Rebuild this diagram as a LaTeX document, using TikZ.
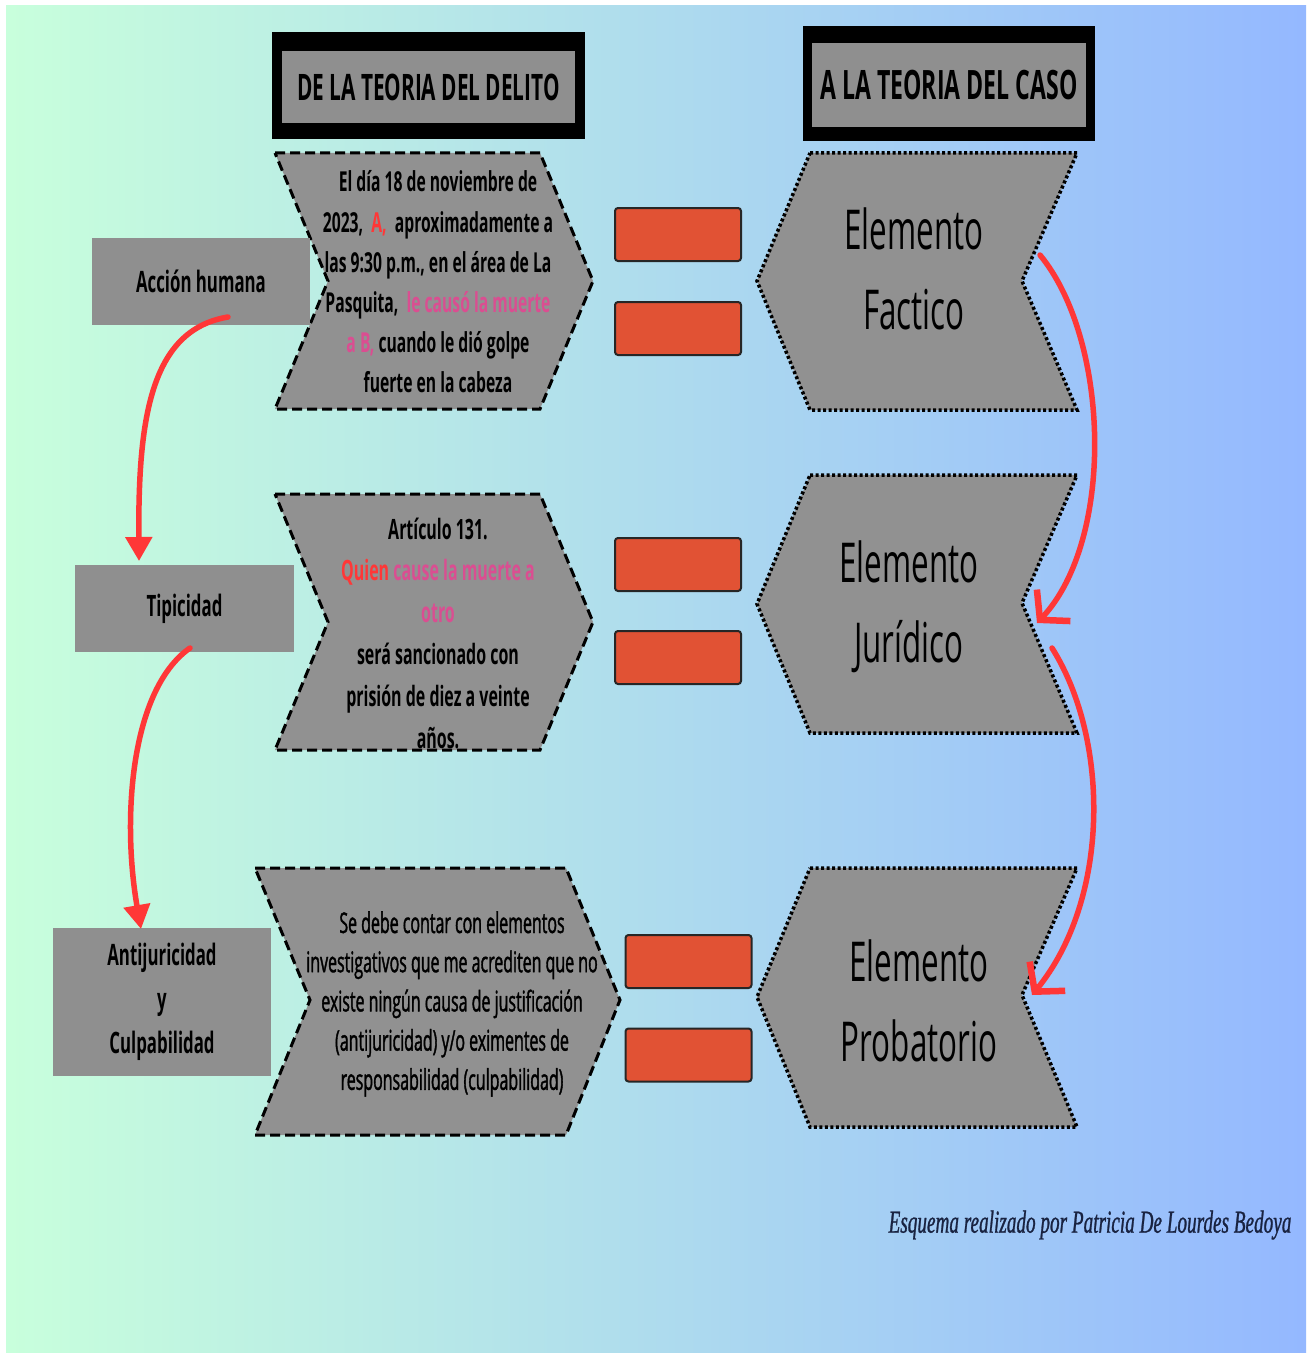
\documentclass[tikz,border=0pt]{standalone}
\usepackage{fontspec}
\setmainfont{Open Sans}[FakeStretch=0.57]
\newfontfamily\medfont{Open Sans}[FakeStretch=0.56, FakeBold=1.3]
\newfontfamily\sigfont{Liberation Serif}[FakeStretch=0.6, FakeBold=0.8]
\usetikzlibrary{arrows.meta}
\definecolor{bgl}{RGB}{200,255,220}
\definecolor{bgr}{RGB}{148,184,255}
\definecolor{boxg}{RGB}{143,143,143}
\definecolor{chevg}{RGB}{145,145,145}
\definecolor{org}{RGB}{225,82,52}
\definecolor{redA}{RGB}{255,55,55}
\definecolor{pinkA}{RGB}{218,78,145}
\definecolor{sigc}{RGB}{25,35,65}
\tikzset{
  chevL/.style={fill=chevg, draw=black, line width=3pt, dash pattern=on 10pt off 5pt, line join=miter},
  chevR/.style={fill=chevg, draw=black, line width=3.5pt, dash pattern=on 3pt off 2.5pt, line join=miter},
  orangebox/.style={fill=org, draw=black!85, line width=2pt, rounded corners=3pt, minimum width=126pt, minimum height=53pt, inner sep=0pt},
  leftbox/.style={fill=boxg, inner sep=0pt, align=center, font=\bfseries\fontsize{29.5}{44}\selectfont},
  headout/.style={fill=black, inner sep=0pt},
  headin/.style={fill=boxg, inner sep=0pt},
  chevtext/.style={align=center, inner sep=0pt},
  eltext/.style={align=center, inner sep=0pt, font=\fontsize{55}{80}\selectfont},
  redarrow/.style={draw=redA, line width=5.5pt, line cap=round},
  barb/.style={-{Straight Barb[length=20pt,width=46pt,line width=6.5pt]}},
}
\begin{document}
\begin{tikzpicture}[x=1pt,y=-1pt]
\useasboundingbox (0,0) rectangle (1312,1359);
\fill[white] (0,0) rectangle (1312,1359);
\shade[left color=bgl,right color=bgr] (6,6) rectangle (1306,1352);

% headers
\node[headout, minimum width=313pt, minimum height=107pt] (h1o) at (428.5,85.5) {};
\node[headin, minimum width=293pt, minimum height=72pt, font=\bfseries\fontsize{36.5}{40}\selectfont] (h1) at (428.5,87) {DE LA TEORIA DEL DELITO};
\node[headout, minimum width=292pt, minimum height=115pt] (h2o) at (949,83.5) {};
\node[headin, minimum width=274pt, minimum height=84pt, font=\bfseries\fontsize{40.5}{46}\selectfont] (h2) at (949,85) {A LA TEORIA DEL CASO};

% left chevrons
\path[chevL] (275,153) -- (540,153) -- (593,281) -- (540,409) -- (275,409) -- (328,281) -- cycle;
\path[chevL] (275,494) -- (540,494) -- (593,622) -- (540,750) -- (275,750) -- (328,622) -- cycle;
\path[chevL] (255,868) -- (566,868) -- (620,1000) -- (566,1135) -- (255,1135) -- (310,1000) -- cycle;

% right chevrons
\path[chevR] (810,153) -- (1077,153) -- (1022,281) -- (1077,410) -- (810,410) -- (757,281) -- cycle;
\path[chevR] (810,475) -- (1077,475) -- (1022,603) -- (1077,733) -- (810,733) -- (757,604) -- cycle;
\path[chevR] (810,868) -- (1077,868) -- (1022,995) -- (1077,1127) -- (810,1127) -- (757,997) -- cycle;

% chevron texts
\node[chevtext, font=\bfseries\fontsize{27.5}{40.2}\selectfont] (t1) at (438,282)
 {El día 18 de noviembre de\\
  2023, \ {\color{redA}A,} \ aproximadamente a\\
  las 9:30 p.m., en el área de La\\
  Pasquita, \ {\color{pinkA}le causó la muerte}\\
  {\color{pinkA}a B,} cuando le dió golpe\\
  fuerte en la cabeza};
\node[chevtext, font=\bfseries\fontsize{28}{41.8}\selectfont] (t2) at (438,633)
 {Artículo 131.\\
  {\color{redA}Quien} {\color{pinkA}cause la muerte a}\\
  {\color{pinkA}otro}\\
  será sancionado con\\
  prisión de diez a veinte\\
  años.};
\node[chevtext, font=\medfont\fontsize{28.5}{39.2}\selectfont] (t3) at (452,1004)
 {Se debe contar con elementos\\
  investigativos que me acrediten que no\\
  existe ningún causa de justificación\\
  (antijuricidad) y/o eximentes de\\
  responsabilidad (culpabilidad)};

\node[eltext] (e1) at (914,269) {Elemento\\Factico};
\node[eltext] (e2) at (909,607) {Elemento\\Jurídico};
\node[eltext] (e3) at (919,1001) {Elemento\\Probatorio};

% orange boxes
\node[orangebox] (o1) at (678,234.5) {};
\node[orangebox] (o2) at (678,328.5) {};
\node[orangebox] (o3) at (678,564.5) {};
\node[orangebox] (o4) at (678,657.5) {};
\node[orangebox] (o5) at (688.5,961.5) {};
\node[orangebox] (o6) at (688.5,1055) {};

% left boxes
\node[leftbox, minimum width=218pt, minimum height=87pt] (ah) at (201,281.5) {Acción humana};
\node[leftbox, minimum width=219pt, minimum height=87pt] (tp) at (184.5,608.5) {Tipicidad};
\node[leftbox, minimum width=218pt, minimum height=148pt] (ac) at (162,1002) {Antijuricidad\\y\\Culpabilidad};

% arrow endpoints
\coordinate (a1s) at (228,317);
\coordinate (a1e) at (139,561);
\coordinate (a2s) at (190,648);
\coordinate (a2e) at (141,929);
\coordinate (a3s) at (1040,255);
\coordinate (a3e) at (1037,623);
\coordinate (a4s) at (1052,648);
\coordinate (a4e) at (1032,995);

\draw[redarrow, -{Triangle[length=24pt,width=26pt]}] (a1s) .. controls (150,330) and (138,420) .. (a1e);
\draw[redarrow, -{Triangle[length=24pt,width=26pt]}] (a2s) .. controls (130,690) and (122,820) .. (a2e);
\draw[redarrow, barb] (a3s) .. controls (1110,340) and (1115,540) .. (a3e);
\draw[redarrow, barb] (a4s) .. controls (1110,740) and (1110,900) .. (a4e);

% signature
\node[inner sep=0pt, text=sigc, font=\sigfont\itshape\fontsize{32}{36}\selectfont] (sig) at (1090,1225) {Esquema realizado por Patricia De Lourdes Bedoya};
\end{tikzpicture}
\end{document}
